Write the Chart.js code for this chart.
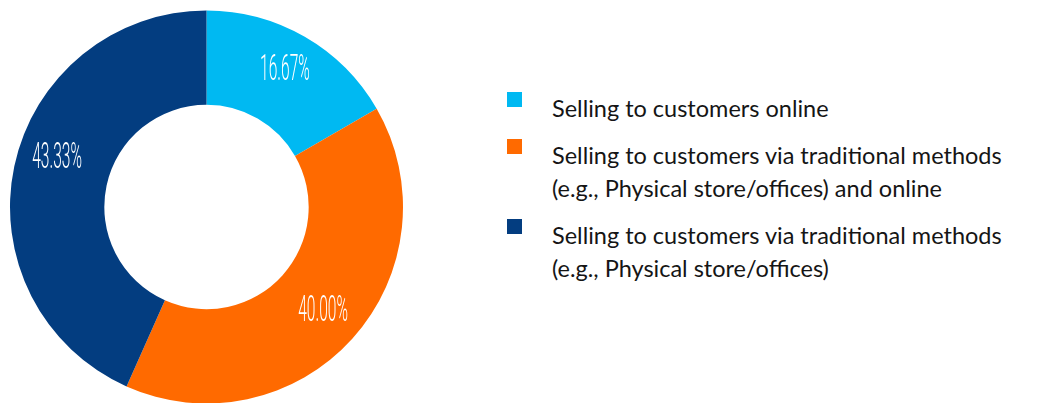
<!DOCTYPE html>
<html>
<head>
<meta charset="utf-8">
<script src="https://cdn.jsdelivr.net/npm/chart.js@4"></script>
<style>
    body{ margin:0; background:#fff; overflow:hidden; width:1058px; height:403px; }
    #chartBox{ position:absolute; left:0; top:0; width:413px; height:414px; }
    #legend{ position:absolute; left:507px; top:91.5px; font-family:Lato, "Noto Sans", sans-serif; font-size:23.5px; color:#151515; }
    .item{ position:relative; margin-bottom:14px; padding-left:45px; line-height:33px; }
    .box{ position:absolute; left:0; width:15px; height:15px; }
</style>
</head>
<body>
<div id="chartBox"><canvas id="myChart"></canvas></div>
<div id="legend"></div>
<script>
var labels = [
    ["Selling to customers online"],
    ["Selling to customers via traditional methods", "(e.g., Physical store/offices) and online"],
    ["Selling to customers via traditional methods", "(e.g., Physical store/offices)"]
];
var values = [16.67, 40.00, 43.33];
var colors = ["#00b9f2", "#ff6a00", "#033d80"];

// legend on the right
var legend = document.getElementById("legend");
for(var i=0; i<labels.length; i++){
    var div = document.createElement("div");
    div.className = "item";
    var top = 10.5 + (labels[i].length - 1) * 23;
    div.innerHTML = '<span class="box" style="top:' + top + 'px;background:' + colors[i] + '"></span>' + labels[i].join("<br>");
    legend.append(div);
}

// white percent labels inside the slices
var sliceLabels = {
    id: "sliceLabels",
    afterDatasetsDraw: function(chart){
        var ctx = chart.ctx;
        var meta = chart.getDatasetMeta(0);
        meta.data.forEach(function(arc, i){
            var p = arc.getProps(["x", "y", "startAngle", "endAngle", "innerRadius", "outerRadius"], true);
            var mid = (p.startAngle + p.endAngle) / 2;
            if(i == 2) mid += 0.1;
            var r = p.innerRadius + (p.outerRadius - p.innerRadius) * 0.58;
            var x = p.x + Math.cos(mid) * r;
            var y = p.y + Math.sin(mid) * r;
            ctx.save();
            ctx.translate(x, y);
            ctx.scale(0.42, 1);
            ctx.fillStyle = "#fff";
            ctx.font = "300 37px Roboto";
            ctx.textAlign = "center";
            ctx.textBaseline = "middle";
            ctx.fillText(values[i].toFixed(2) + "%", 0, 0);
            ctx.restore();
        });
    }
};

var ctx = document.getElementById("myChart").getContext("2d");
var myChart = new Chart(ctx, {
    type: "doughnut",
    data: {
        labels: labels.map(function(l){ return l.join(" "); }),
        datasets: [{
            data: values,
            backgroundColor: colors,
            borderWidth: 0
        }]
    },
    options: {
        responsive: true,
        maintainAspectRatio: false,
        animation: false,
        cutout: "52%",
        layout: { padding: 10 },
        plugins: {
            legend: { display: false },
            tooltip: { enabled: false }
        }
    },
    plugins: [sliceLabels]
});
</script>
</body>
</html>
